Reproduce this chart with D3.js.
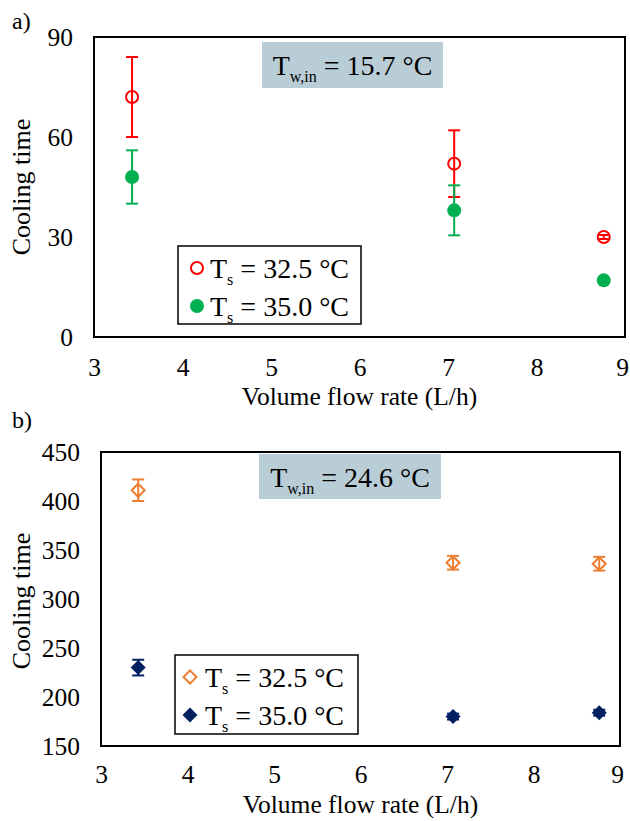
<!DOCTYPE html>
<html>
<head>
<meta charset="utf-8">
<script src="https://cdn.jsdelivr.net/npm/d3@7"></script>
<style>
  html, body { margin: 0; padding: 0; background: #fff; }
  svg { display: block; font-family: "Liberation Serif", "Times New Roman", serif; }
</style>
</head>
<body>
<svg id="chart" width="630" height="821"></svg>
<script>
// Flow rates (L/h) shared by both panels
const flowRates = [3.43, 7.07, 8.76];
const xTicks = [3, 4, 5, 6, 7, 8, 9];

// Panel a: inlet water 15.7 °C
const aCool325 = [72, 52, 30];
const aErr325 = [12, 10, 0.6];
const aCool350 = [48, 38, 17];
const aErr350 = [8, 7.5, 0];
const aYTicks = [0, 30, 60, 90];

// Panel b: inlet water 24.6 °C
const bCool325 = [411, 337, 336];
const bErr325 = [11, 7, 7];
const bCool350 = [230, 180, 184];
const bErr350 = [8, 3, 3];
const bYTicks = [150, 200, 250, 300, 350, 400, 450];

const svg = d3.select("#chart");
const FS = 25.5;

function panel(cfg) {
  const x = d3.scaleLinear().domain([3, 9]).range([cfg.left, cfg.right]);
  const y = d3.scaleLinear().domain(cfg.yDomain).range([cfg.bottom, cfg.top]);
  const g = svg.append("g");

  // x axis labels (no tick marks, no domain line)
  const xa = g.append("g")
    .attr("transform", `translate(0,${cfg.bottom})`)
    .call(d3.axisBottom(x).tickValues(xTicks).tickSize(0).tickPadding(cfg.xPad).tickFormat(d3.format("d")));
  xa.select(".domain").remove();
  xa.selectAll("text").attr("font-size", FS).attr("font-family", "Liberation Serif").attr("fill", "#000");
  // keep the last label inside the page edge
  xa.selectAll(".tick").filter(d => d === 9).select("text").attr("dx", -3);

  const ya = g.append("g")
    .attr("transform", `translate(${cfg.left},0)`)
    .call(d3.axisLeft(y).tickValues(cfg.yTicks).tickSize(0).tickPadding(21).tickFormat(d3.format("d")));
  ya.select(".domain").remove();
  ya.selectAll("text").attr("font-size", FS).attr("font-family", "Liberation Serif").attr("fill", "#000");

  // plot-area frame
  g.append("rect")
    .attr("x", cfg.left).attr("y", cfg.top)
    .attr("width", cfg.right - cfg.left).attr("height", cfg.bottom - cfg.top)
    .attr("fill", "none").attr("stroke", "#000").attr("stroke-width", 2);

  // axis titles
  g.append("text")
    .attr("x", (cfg.left + cfg.right) / 2).attr("y", cfg.xTitleY)
    .attr("text-anchor", "middle").attr("font-size", 25.5)
    .text("Volume flow rate (L/h)");
  g.append("text")
    .attr("transform", `translate(${cfg.yTitleX},${cfg.yTitleMid}) rotate(-90)`)
    .attr("text-anchor", "middle").attr("font-size", 26)
    .text("Cooling time");

  // panel letter
  g.append("text").attr("x", 12).attr("y", cfg.letterY)
    .attr("font-size", 24).text(cfg.letter);

  // inlet-temperature box
  const tb = g.append("g");
  tb.append("rect")
    .attr("x", cfg.box.x0).attr("y", cfg.box.y0)
    .attr("width", cfg.box.x1 - cfg.box.x0).attr("height", cfg.box.y1 - cfg.box.y0)
    .attr("fill", "#b9cdd6");
  const tt = tb.append("text")
    .attr("x", (cfg.box.x0 + cfg.box.x1) / 2).attr("y", cfg.box.base)
    .attr("text-anchor", "middle").attr("font-size", 28);
  tt.append("tspan").text("T");
  tt.append("tspan").attr("font-size", 16).attr("dy", 7).text("w,in");
  tt.append("tspan").attr("dy", -7).text(" = " + cfg.twin + " °C");

  // series
  cfg.series.forEach(s => {
    const pts = flowRates.map((f, i) => ({ x: f, v: s.values[i], e: s.errors[i] }));
    const mg = g.append("g");
    pts.forEach(p => drawMarker(mg, s, x(p.x), y(p.v)));
    const eg = g.append("g").attr("stroke", s.color).attr("stroke-width", 2).attr("fill", "none");
    pts.forEach(p => {
      if (!p.e) return;
      const cx = x(p.x);
      const yt = y(p.v + p.e), yb = y(p.v - p.e);
      eg.append("line").attr("x1", cx).attr("x2", cx).attr("y1", yt).attr("y2", yb);
      eg.append("line").attr("x1", cx - 6).attr("x2", cx + 6).attr("y1", yt).attr("y2", yt);
      eg.append("line").attr("x1", cx - 6).attr("x2", cx + 6).attr("y1", yb).attr("y2", yb);
    });
  });

  // legend
  const L = cfg.legend;
  const lg = g.append("g");
  lg.append("rect").attr("x", L.x0).attr("y", L.y0)
    .attr("width", L.x1 - L.x0).attr("height", L.y1 - L.y0)
    .attr("fill", "#fff").attr("stroke", "#000").attr("stroke-width", 1.5);
  cfg.series.forEach((s, i) => {
    const cy = L.rows[i];
    drawMarker(lg, s, L.mx, cy);
    const t = lg.append("text").attr("x", L.tx).attr("y", cy + 10).attr("font-size", 28);
    t.append("tspan").text("T");
    t.append("tspan").attr("font-size", 16).attr("dy", 7).text("s");
    t.append("tspan").attr("dy", -7).text(" = " + s.label + " °C");
  });
}

function drawMarker(sel, s, cx, cy) {
  if (s.shape === "circle") {
    sel.append("circle").attr("cx", cx).attr("cy", cy).attr("r", s.hollow ? 6 : 7)
      .attr("fill", s.hollow ? "none" : s.color)
      .attr("stroke", s.color).attr("stroke-width", s.hollow ? 2 : 0);
  } else {
    const r = s.hollow ? 6.5 : 7.5;
    sel.append("path")
      .attr("d", `M${cx},${cy - r}L${cx + r},${cy}L${cx},${cy + r}L${cx - r},${cy}Z`)
      .attr("fill", s.hollow ? "none" : s.color)
      .attr("stroke", s.color).attr("stroke-width", s.hollow ? 2 : 0);
  }
}

panel({
  letter: "a)", letterY: 29,
  left: 94, right: 625, top: 37, bottom: 337,
  yDomain: [0, 90], yTicks: aYTicks, xPad: 21,
  xTitleY: 405, yTitleX: 30, yTitleMid: 187,
  twin: "15.7",
  box: { x0: 262, x1: 443, y0: 42, y1: 88, base: 75 },
  legend: { x0: 178, x1: 361, y0: 246, y1: 324, mx: 197, tx: 210, rows: [268, 306] },
  series: [
    { label: "32.5", values: aCool325, errors: aErr325, color: "#ff0000", shape: "circle", hollow: true },
    { label: "35.0", values: aCool350, errors: aErr350, color: "#00b050", shape: "circle", hollow: false }
  ]
});

panel({
  letter: "b)", letterY: 428,
  left: 101, right: 620, top: 452, bottom: 746,
  yDomain: [150, 450], yTicks: bYTicks, xPad: 19,
  xTitleY: 813, yTitleX: 30, yTitleMid: 601,
  twin: "24.6",
  box: { x0: 259, x1: 441, y0: 454, y1: 499, base: 487 },
  legend: { x0: 175, x1: 358, y0: 655, y1: 734, mx: 190, tx: 205, rows: [677, 715] },
  series: [
    { label: "32.5", values: bCool325, errors: bErr325, color: "#ed7d31", shape: "diamond", hollow: true },
    { label: "35.0", values: bCool350, errors: bErr350, color: "#002060", shape: "diamond", hollow: false }
  ]
});
</script>
</body>
</html>
